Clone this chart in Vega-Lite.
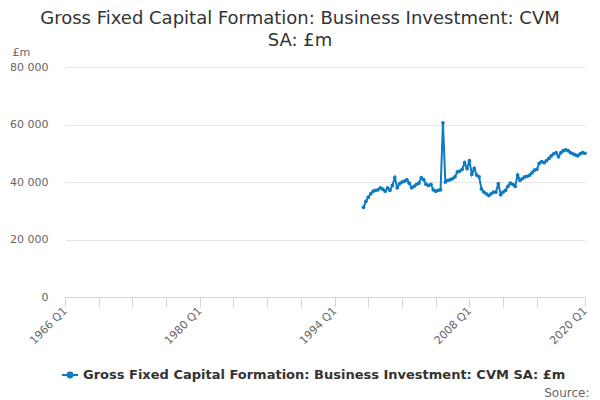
{
  "$schema": "https://vega.github.io/schema/vega-lite/v6.json",
  "width": 520,
  "height": 230,
  "autosize": {"type": "none"},
  "padding": {"left": 65, "top": 67, "right": 15, "bottom": 103},
  "background": "white",
  "title": {
    "text": ["Gross Fixed Capital Formation: Business Investment: CVM", "SA: £m"],
    "font": "DejaVu Sans",
    "fontSize": 18,
    "fontWeight": "normal",
    "color": "#333333",
    "anchor": "middle",
    "frame": "group",
    "dx": -25,
    "dy": 26,
    "offset": 22,
    "lineHeight": 22
  },
  "data": {
    "values": [
      {"quarter": "1997-01-01", "value": 31200},
      {"quarter": "1997-04-01", "value": 33300},
      {"quarter": "1997-07-01", "value": 34700},
      {"quarter": "1997-10-01", "value": 35900},
      {"quarter": "1998-01-01", "value": 36800},
      {"quarter": "1998-04-01", "value": 37100},
      {"quarter": "1998-07-01", "value": 37300},
      {"quarter": "1998-10-01", "value": 38000},
      {"quarter": "1999-01-01", "value": 37500},
      {"quarter": "1999-04-01", "value": 36800},
      {"quarter": "1999-07-01", "value": 38000},
      {"quarter": "1999-10-01", "value": 37100},
      {"quarter": "2000-01-01", "value": 38800},
      {"quarter": "2000-04-01", "value": 41500},
      {"quarter": "2000-07-01", "value": 38000},
      {"quarter": "2000-10-01", "value": 39400},
      {"quarter": "2001-01-01", "value": 40000},
      {"quarter": "2001-04-01", "value": 40300},
      {"quarter": "2001-07-01", "value": 40800},
      {"quarter": "2001-10-01", "value": 39600},
      {"quarter": "2002-01-01", "value": 38000},
      {"quarter": "2002-04-01", "value": 38500},
      {"quarter": "2002-07-01", "value": 39200},
      {"quarter": "2002-10-01", "value": 39600},
      {"quarter": "2003-01-01", "value": 41500},
      {"quarter": "2003-04-01", "value": 40800},
      {"quarter": "2003-07-01", "value": 39200},
      {"quarter": "2003-10-01", "value": 38800},
      {"quarter": "2004-01-01", "value": 39200},
      {"quarter": "2004-04-01", "value": 37300},
      {"quarter": "2004-07-01", "value": 36800},
      {"quarter": "2004-10-01", "value": 37100},
      {"quarter": "2005-01-01", "value": 37300},
      {"quarter": "2005-04-01", "value": 60600},
      {"quarter": "2005-07-01", "value": 40000},
      {"quarter": "2005-10-01", "value": 40600},
      {"quarter": "2006-01-01", "value": 40800},
      {"quarter": "2006-04-01", "value": 41200},
      {"quarter": "2006-07-01", "value": 41800},
      {"quarter": "2006-10-01", "value": 43500},
      {"quarter": "2007-01-01", "value": 43800},
      {"quarter": "2007-04-01", "value": 44400},
      {"quarter": "2007-07-01", "value": 46700},
      {"quarter": "2007-10-01", "value": 44700},
      {"quarter": "2008-01-01", "value": 47400},
      {"quarter": "2008-04-01", "value": 42700},
      {"quarter": "2008-07-01", "value": 44700},
      {"quarter": "2008-10-01", "value": 42400},
      {"quarter": "2009-01-01", "value": 41800},
      {"quarter": "2009-04-01", "value": 37600},
      {"quarter": "2009-07-01", "value": 36500},
      {"quarter": "2009-10-01", "value": 35900},
      {"quarter": "2010-01-01", "value": 35300},
      {"quarter": "2010-04-01", "value": 35900},
      {"quarter": "2010-07-01", "value": 36500},
      {"quarter": "2010-10-01", "value": 36500},
      {"quarter": "2011-01-01", "value": 39400},
      {"quarter": "2011-04-01", "value": 35600},
      {"quarter": "2011-07-01", "value": 36500},
      {"quarter": "2011-10-01", "value": 37100},
      {"quarter": "2012-01-01", "value": 38500},
      {"quarter": "2012-04-01", "value": 39600},
      {"quarter": "2012-07-01", "value": 39200},
      {"quarter": "2012-10-01", "value": 38500},
      {"quarter": "2013-01-01", "value": 42400},
      {"quarter": "2013-04-01", "value": 40600},
      {"quarter": "2013-07-01", "value": 41200},
      {"quarter": "2013-10-01", "value": 41800},
      {"quarter": "2014-01-01", "value": 42000},
      {"quarter": "2014-04-01", "value": 42400},
      {"quarter": "2014-07-01", "value": 43200},
      {"quarter": "2014-10-01", "value": 44100},
      {"quarter": "2015-01-01", "value": 44400},
      {"quarter": "2015-04-01", "value": 46500},
      {"quarter": "2015-07-01", "value": 47100},
      {"quarter": "2015-10-01", "value": 46700},
      {"quarter": "2016-01-01", "value": 47400},
      {"quarter": "2016-04-01", "value": 48200},
      {"quarter": "2016-07-01", "value": 49100},
      {"quarter": "2016-10-01", "value": 49800},
      {"quarter": "2017-01-01", "value": 50200},
      {"quarter": "2017-04-01", "value": 48800},
      {"quarter": "2017-07-01", "value": 50200},
      {"quarter": "2017-10-01", "value": 50900},
      {"quarter": "2018-01-01", "value": 51200},
      {"quarter": "2018-04-01", "value": 50900},
      {"quarter": "2018-07-01", "value": 50200},
      {"quarter": "2018-10-01", "value": 49800},
      {"quarter": "2019-01-01", "value": 49400},
      {"quarter": "2019-04-01", "value": 49100},
      {"quarter": "2019-07-01", "value": 49800},
      {"quarter": "2019-10-01", "value": 50200},
      {"quarter": "2020-01-01", "value": 50000}
    ]
  },
  "mark": {
    "type": "line",
    "strokeWidth": 2,
    "point": {"filled": true, "size": 14}
  },
  "encoding": {
    "x": {
      "field": "quarter",
      "type": "temporal",
      "scale": {
        "type": "utc",
        "domain": [
          {"year": 1966, "month": 1, "date": 1, "utc": true},
          {"year": 2020, "month": 1, "date": 1, "utc": true}
        ]
      },
      "axis": {
        "title": "Source:",
        "titleAnchor": "end",
        "titleAlign": "right",
        "titleBaseline": "alphabetic",
        "titleX": 524,
        "titleY": 99,
        "titleFont": "DejaVu Sans",
        "titleFontSize": 12,
        "titleFontWeight": "normal",
        "titleColor": "#666666",
        "values": [
          {"year": 1966, "month": 1, "date": 1, "utc": true},
          {"year": 1969, "month": 7, "date": 1, "utc": true},
          {"year": 1973, "month": 1, "date": 1, "utc": true},
          {"year": 1976, "month": 7, "date": 1, "utc": true},
          {"year": 1980, "month": 1, "date": 1, "utc": true},
          {"year": 1983, "month": 7, "date": 1, "utc": true},
          {"year": 1987, "month": 1, "date": 1, "utc": true},
          {"year": 1990, "month": 7, "date": 1, "utc": true},
          {"year": 1994, "month": 1, "date": 1, "utc": true},
          {"year": 1997, "month": 7, "date": 1, "utc": true},
          {"year": 2001, "month": 1, "date": 1, "utc": true},
          {"year": 2004, "month": 7, "date": 1, "utc": true},
          {"year": 2008, "month": 1, "date": 1, "utc": true},
          {"year": 2011, "month": 7, "date": 1, "utc": true},
          {"year": 2015, "month": 1, "date": 1, "utc": true},
          {"year": 2020, "month": 1, "date": 1, "utc": true}
        ],
        "labelExpr": "indexof([1966, 1980, 1994, 2008, 2020], utcyear(datum.value)) >= 0 && utcmonth(datum.value) == 0 ? utcFormat(datum.value, '%Y Q%q') : ''",
        "labelAngle": -45,
        "labelAlign": "right",
        "labelBaseline": "middle",
        "labelPadding": 2,
        "labelFont": "DejaVu Sans",
        "labelFontSize": 11,
        "labelColor": "#666666",
        "labelOverlap": false,
        "labelFlush": false,
        "grid": false,
        "domainColor": "#ccd6eb",
        "tickColor": "#ccd6eb",
        "tickSize": 10
      }
    },
    "y": {
      "field": "value",
      "type": "quantitative",
      "scale": {"domain": [0, 80000]},
      "axis": {
        "title": "£m",
        "titleAngle": 0,
        "titleAlign": "left",
        "titleBaseline": "middle",
        "titleX": -53,
        "titleY": -15,
        "titleFont": "DejaVu Sans",
        "titleFontSize": 11,
        "titleFontWeight": "normal",
        "titleColor": "#666666",
        "values": [0, 20000, 40000, 60000, 80000],
        "labelExpr": "replace(format(datum.value, ','), ',', ' ')",
        "labelFont": "DejaVu Sans",
        "labelFontSize": 11,
        "labelColor": "#666666",
        "labelPadding": 17,
        "domain": false,
        "ticks": false,
        "gridColor": "#e6e6e6"
      }
    },
    "color": {
      "datum": "Gross Fixed Capital Formation: Business Investment: CVM SA: £m",
      "type": "nominal",
      "scale": {"range": ["#0c7bc0"]},
      "legend": {
        "title": null,
        "orient": "none",
        "legendX": -4,
        "legendY": 299,
        "symbolType": "M-1,0L1,0M-0.3,0A0.3,0.3 0 1,1 0.3,0A0.3,0.3 0 1,1 -0.3,0Z",
        "symbolSize": 256,
        "symbolStrokeWidth": 2,
        "symbolFillColor": "#0c7bc0",
        "symbolStrokeColor": "#0c7bc0",
        "labelFont": "DejaVu Sans",
        "labelFontSize": 13,
        "labelFontWeight": "bold",
        "labelColor": "#333333",
        "labelLimit": 600
      }
    }
  },
  "config": {
    "view": {"stroke": null}
  }
}
